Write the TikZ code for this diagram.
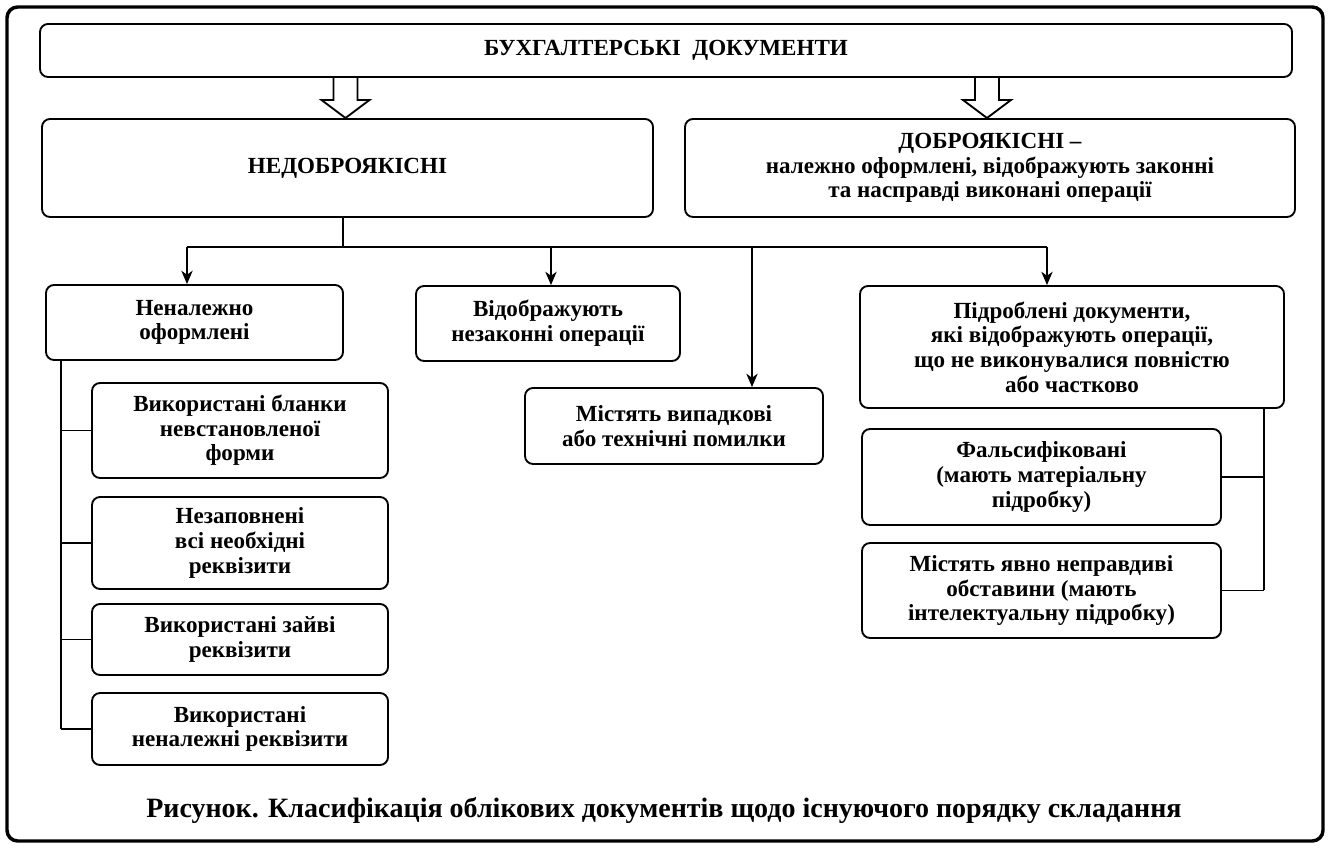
\documentclass[tikz,border=0pt]{standalone}
\usepackage{fontspec}
\setmainfont{Liberation Serif}
\usetikzlibrary{arrows.meta}
\begin{document}
\begin{tikzpicture}[x=0.75pt,y=-0.75pt,
  box/.style={draw,rounded corners=6pt,line width=1.4pt,align=center,inner sep=0pt,font=\bfseries\fontsize{17.3}{18.5}\selectfont},
  link/.style={line width=1.1pt},
  arr/.style={link,-{Stealth[length=10pt,width=8.5pt,inset=3pt]}},
  hollow/.style={line width=1.4pt,line join=miter}]
\useasboundingbox (0,0) rectangle (1329,848);
\draw[line width=2.6pt,rounded corners=8pt] (7,7) rectangle (1323,841);
%top level
\node[box,minimum width=939pt,minimum height=39.75pt] (docs) at (666,50.5) {БУХГАЛТЕРСЬКІ\ \ ДОКУМЕНТИ};
\node[box,minimum width=458.25pt,minimum height=73.5pt] (bad) at (347.5,168) {НЕДОБРОЯКІСНІ};
\node[box,minimum width=457.5pt,minimum height=73.5pt] (good) at (990,168) {ДОБРОЯКІСНІ –\\належно оформлені, відображують законні\\та насправді виконані операції};
\coordinate (A_1) at (345.5,77);
\coordinate (A_2) at (987,77);
\foreach \a in {A_1,A_2}
  \draw[hollow] (\a) ++(-12,0) -- ++(0,23) -- ++(-12,0) -- ++(24,18) -- ++(24,-18) -- ++(-12,0) -- ++(0,-23);
%second level
\node[box,minimum width=222.75pt,minimum height=56.25pt] (bad_1) at (194.5,322.5) {Неналежно\\оформлені};
\node[box,minimum width=198pt,minimum height=56.25pt] (bad_2) at (548,323.5) {Відображують\\незаконні операції};
\node[box,minimum width=223.5pt,minimum height=57pt] (bad_3) at (674,426) {Містять випадкові\\або технічні помилки};
\node[box,minimum width=318pt,minimum height=91.5pt] (bad_4) at (1072,347) {Підроблені документи,\\які відображують операції,\\що не виконувалися повністю\\або частково};
\coordinate (B) at (343,247);
\coordinate (B_1) at (187,247);
\coordinate (B_2) at (551,247);
\coordinate (B_3) at (752,247);
\coordinate (B_4) at (1047,247);
\draw[link] (bad.south -| B) -- (B);
\draw[link] (B_1) -- (B_4);
\draw[arr] (B_1) -- (B_1 |- bad_1.north);
\draw[arr] (B_2) -- (B_2 |- bad_2.north);
\draw[arr] (B_3) -- (B_3 |- bad_3.north);
\draw[arr] (B_4) -- (B_4 |- bad_4.north);
%left branch
\node[box,minimum width=222pt,minimum height=71.25pt] (bad_1_1) at (240,430.5) {Використані бланки\\невстановленої\\форми};
\node[box,minimum width=222pt,minimum height=69pt] (bad_1_2) at (240,543) {Незаповнені\\всі необхідні\\реквізити};
\node[box,minimum width=222pt,minimum height=53.25pt] (bad_1_3) at (240,639.5) {Використані зайві\\реквізити};
\node[box,minimum width=222pt,minimum height=54pt] (bad_1_4) at (240,729) {Використані\\неналежні реквізити};
\coordinate (L) at (61,360);
\draw[link] (L) -- (L |- bad_1_4.west);
\foreach \n in {bad_1_1,bad_1_2,bad_1_3,bad_1_4}
  \draw[link] (L |- \n.west) -- (\n.west);
%right branch
\node[box,minimum width=269.25pt,minimum height=72pt] (bad_4_1) at (1041.5,477) {Фальсифіковані\\(мають матеріальну\\підробку)};
\node[box,minimum width=269.25pt,minimum height=71.25pt] (bad_4_2) at (1041.5,590.5) {Містять явно неправдиві\\обставини (мають\\інтелектуальну підробку)};
\coordinate (R) at (1264,408);
\draw[link] (R) -- (R |- bad_4_2.east);
\foreach \n in {bad_4_1,bad_4_2}
  \draw[link] (R |- \n.east) -- (\n.east);
\node[font=\bfseries\fontsize{21}{24}\selectfont] (caption) at (664,810) {Рисунок. Класифікація облікових документів щодо існуючого порядку складання};
\end{tikzpicture}
\end{document}
